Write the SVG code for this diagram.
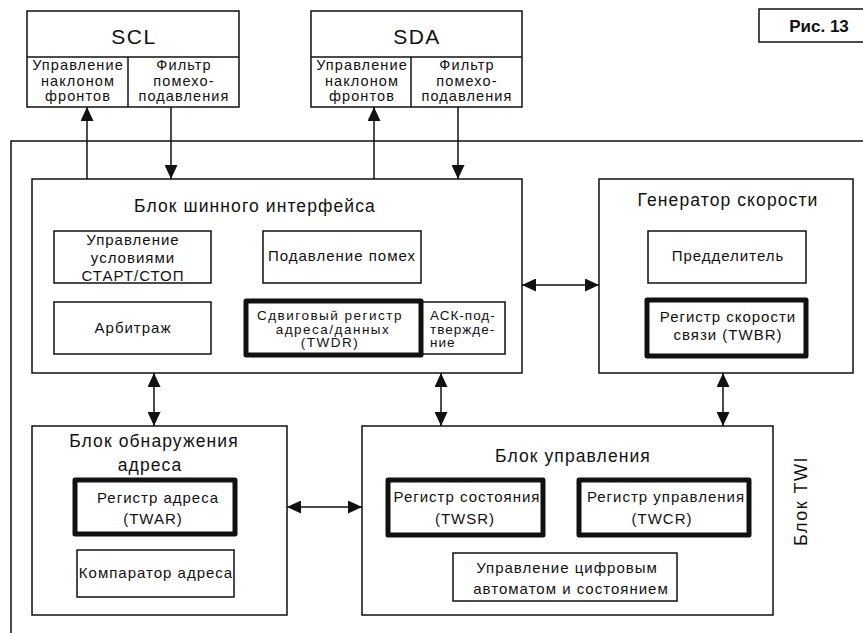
<svg xmlns="http://www.w3.org/2000/svg" width="863" height="633" viewBox="0 0 863 633">
<style>
text{font-family:"Liberation Sans",Arial,sans-serif;fill:#111}
.box{fill:#fff;stroke:#111;stroke-width:1.5}
.bold{fill:#fff;stroke:#111;stroke-width:5;stroke-linejoin:round}
.ln{stroke:#111;stroke-width:1.5;fill:none}
.t13{font-size:14.5px;text-anchor:middle;letter-spacing:1.1px}
.t14{font-size:13.5px;text-anchor:middle;letter-spacing:1.5px}
.t15{font-size:15px;text-anchor:middle;letter-spacing:1px}
.t17{font-size:17.5px;text-anchor:middle;letter-spacing:1.1px}
.tbig{font-size:21px;text-anchor:middle;letter-spacing:1.5px}
.ack{font-size:13.5px;letter-spacing:1px}
</style>
<defs>
<marker id="ah" viewBox="0 0 14 13" refX="14" refY="6.5" markerWidth="14" markerHeight="13" markerUnits="userSpaceOnUse" orient="auto-start-reverse">
<path d="M0,0 L14,6.5 L0,13 z" fill="#111"/>
</marker>
</defs>
<rect width="863" height="633" fill="#fff"/>

<g id="fig-label">
<rect x="759" y="9" width="110" height="33" class="box"/>
<text x="819" y="32" style="font-size:17px;font-weight:bold;text-anchor:middle">Рис. 13</text>
</g>

<g id="twi-frame">
<path class="ln" d="M870,141 H11 V633"/>
<text transform="translate(807,501) rotate(-90)" style="font-size:18px;text-anchor:middle;letter-spacing:1.5px">Блок TWI</text>
</g>

<g id="scl">
<rect x="27" y="11" width="212" height="96" class="box"/>
<line x1="27" y1="57" x2="239" y2="57" class="ln"/>
<line x1="128" y1="57" x2="128" y2="107" class="ln"/>
<text x="134" y="44" class="tbig">SCL</text>
<text x="78" y="70" class="t13">Управление</text>
<text x="78" y="85.5" class="t13">наклоном</text>
<text x="78" y="101" class="t13">фронтов</text>
<text x="184" y="70" class="t13">Фильтр</text>
<text x="184" y="85.5" class="t13">помехо-</text>
<text x="184" y="101" class="t13">подавления</text>
</g>

<g id="sda">
<rect x="311" y="11" width="211" height="96" class="box"/>
<line x1="311" y1="57" x2="522" y2="57" class="ln"/>
<line x1="411" y1="57" x2="411" y2="107" class="ln"/>
<text x="417" y="44" class="tbig">SDA</text>
<text x="362" y="70" class="t13">Управление</text>
<text x="362" y="85.5" class="t13">наклоном</text>
<text x="362" y="101" class="t13">фронтов</text>
<text x="467" y="70" class="t13">Фильтр</text>
<text x="467" y="85.5" class="t13">помехо-</text>
<text x="467" y="101" class="t13">подавления</text>
</g>

<g id="bus-interface">
<rect x="32" y="179" width="490" height="194" class="box"/>
<text x="255" y="212" class="t17">Блок шинного интерфейса</text>
<rect x="54" y="231" width="157" height="52" class="box"/>
<text x="133" y="245" class="t15">Управление</text>
<text x="133" y="263" class="t15">условиями</text>
<text x="133" y="281" class="t15">СТАРТ/СТОП</text>
<rect x="54" y="302" width="157" height="52" class="box"/>
<text x="133" y="333" class="t15">Арбитраж</text>
<rect x="263" y="231" width="158" height="52" class="box"/>
<text x="342" y="261" class="t15">Подавление помех</text>
<rect x="421" y="302" width="84" height="52" class="box"/>
<text x="430" y="320" class="ack">АСК-под-</text>
<text x="430" y="333.5" class="ack">твержде-</text>
<text x="430" y="347" class="ack">ние</text>
<rect x="246" y="301" width="175" height="54" class="bold"/>
<text x="330" y="320" class="t14">Сдвиговый регистр</text>
<text x="333" y="333.5" class="t14">адреса/данных</text>
<text x="330" y="347" class="t14">(TWDR)</text>
</g>

<g id="rate-generator">
<rect x="599" y="179" width="254" height="194" class="box"/>
<text x="728" y="206" class="t17">Генератор скорости</text>
<rect x="648" y="231" width="158" height="52" class="box"/>
<text x="728" y="261" class="t15">Предделитель</text>
<rect x="647" y="300" width="159" height="56" class="bold"/>
<text x="728" y="322" class="t15">Регистр скорости</text>
<text x="728" y="340" class="t15">связи (TWBR)</text>
</g>

<g id="address-match">
<rect x="32" y="426" width="255" height="189" class="box"/>
<text x="154" y="447" class="t17">Блок обнаружения</text>
<text x="150" y="471" class="t17">адреса</text>
<rect x="75" y="480" width="160" height="54" class="bold"/>
<text x="158" y="503" class="t15">Регистр адреса</text>
<text x="153" y="524" class="t15">(TWAR)</text>
<rect x="77" y="550" width="157" height="47" class="box"/>
<text x="156" y="578" class="t15">Компаратор адреса</text>
</g>

<g id="control-unit">
<rect x="362" y="426" width="411" height="189" class="box"/>
<text x="573" y="462" class="t17">Блок управления</text>
<rect x="388" y="480" width="155" height="55" class="bold"/>
<text x="467" y="502" class="t15">Регистр состояния</text>
<text x="465" y="524" class="t15">(TWSR)</text>
<rect x="579" y="480" width="170" height="55" class="bold"/>
<text x="666" y="502" class="t15">Регистр управления</text>
<text x="662" y="524" class="t15">(TWCR)</text>
<rect x="453" y="553" width="224" height="48" class="box"/>
<text x="567" y="573" class="t15">Управление цифровым</text>
<text x="571" y="594" class="t15">автоматом и состоянием</text>
</g>

<g id="connectors">
<line x1="87" y1="179" x2="87" y2="107" class="ln" marker-end="url(#ah)"/>
<line x1="171" y1="107" x2="171" y2="179" class="ln" marker-end="url(#ah)"/>
<line x1="374" y1="179" x2="374" y2="107" class="ln" marker-end="url(#ah)"/>
<line x1="458" y1="107" x2="458" y2="179" class="ln" marker-end="url(#ah)"/>
<line x1="522" y1="285" x2="599" y2="285" class="ln" marker-start="url(#ah)" marker-end="url(#ah)"/>
<line x1="154" y1="373" x2="154" y2="426" class="ln" marker-start="url(#ah)" marker-end="url(#ah)"/>
<line x1="441" y1="373" x2="441" y2="426" class="ln" marker-start="url(#ah)" marker-end="url(#ah)"/>
<line x1="723" y1="373" x2="723" y2="426" class="ln" marker-start="url(#ah)" marker-end="url(#ah)"/>
<line x1="287" y1="507" x2="362" y2="507" class="ln" marker-start="url(#ah)" marker-end="url(#ah)"/>
</g>
</svg>
